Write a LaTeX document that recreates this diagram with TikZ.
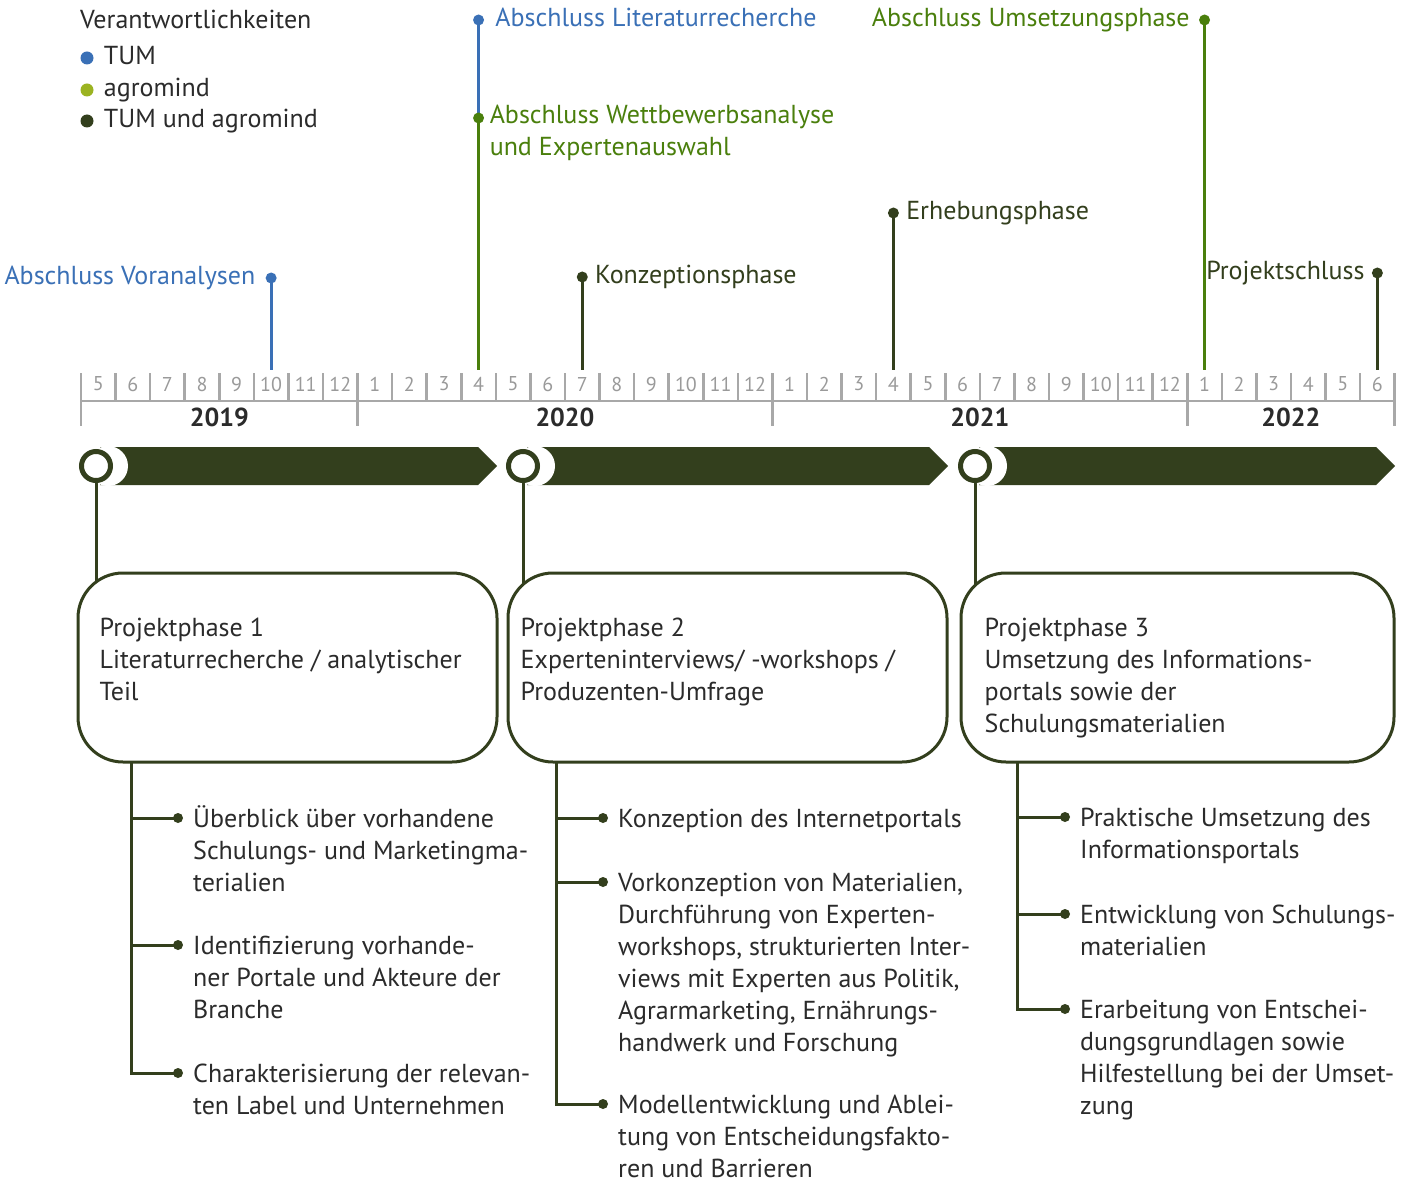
\documentclass[tikz,border=0pt]{standalone}
\usepackage{fontspec}
\setmainfont{PT Sans}
\usetikzlibrary{positioning,backgrounds,calc}

\definecolor{tumblue}{HTML}{3A70B6}
\definecolor{agrolime}{HTML}{9BB321}
\definecolor{agrogreen}{HTML}{4A7F0C}
\definecolor{olivedark}{HTML}{333F1D}
\definecolor{textgray}{HTML}{2B2B2B}
\definecolor{axisgray}{HTML}{A8A8A8}
\definecolor{monthgray}{HTML}{9A9A9A}

\tikzset{
  txt/.style={anchor=north west, inner sep=0pt, align=left,
    font=\fontsize{26}{32}\selectfont, text=textgray},
  msdot/.style={circle, fill=#1, inner sep=0pt, minimum size=11pt},
  msline/.style={draw=#1, line width=3pt},
  legdot/.style={circle, fill=#1, inner sep=0pt, minimum size=13pt},
  tick/.style={draw=axisgray, line width=2.5pt},
  ring/.style={circle, draw=olivedark, line width=5pt, fill=white, inner sep=0pt, minimum size=29pt},
  phasebox/.style={draw=olivedark, line width=3pt, fill=white, rounded corners=45pt, inner sep=0pt, minimum height=189pt},
  conn/.style={draw=olivedark, line width=3pt},
  itemdot/.style={circle, fill=olivedark, inner sep=0pt, minimum size=10pt},
}

\begin{document}
\begin{tikzpicture}[x=1pt, y=-1pt]
\def\axl{81}
\def\mw{34.57}

\begin{pgfonlayer}{background}
  \fill[white] (0,0) rectangle (1405,1182);
\end{pgfonlayer}
\useasboundingbox (0,0) rectangle (1405,1182);

% legend
\node[txt, anchor=west] (legtitle) at (80,22) {\strut Verantwortlichkeiten};
\foreach \n/\col/\y/\t in {tum/tumblue/58/TUM, agro/agrolime/90/agromind, both/olivedark/121/TUM und agromind} {
  \node[legdot=\col] (l-\n) at (87,\y) {};
  \node[txt, right=10pt of l-\n] (lt-\n) {\strut\t};
}

% month axis
\foreach \i [evaluate=\i as \xx using {\axl+\i*\mw}] in {0,...,38}
  \draw[tick] (\xx,373) -- (\xx,401);
\foreach \i [evaluate=\i as \xx using {\axl+\i*\mw}] in {0,8,20,32,38}
  \draw[tick] (\xx,373) -- (\xx,426);
\draw[tick] (\axl,401) -- ({\axl+38*\mw},401);
\foreach \i [evaluate=\i as \mon using {int(mod(\i+4,12)+1)}] in {0,...,37}
  \node[font=\fontsize{20}{20}\selectfont, text=monthgray] (m\i) at ({\axl+(\i+0.5)*\mw},384) {\mon};
\foreach \yr/\a/\b in {2019/0/8, 2020/8/20, 2021/20/32, 2022/32/38}
  \node[font=\bfseries\fontsize{26}{26}\selectfont, text=textgray] (y\yr) at ({\axl+(\a+\b)/2*\mw},417) {\yr};

% milestones
\foreach \n/\i/\top/\col in {voran/5/278/tumblue, konz/14/277/olivedark, erheb/23/213/olivedark,
    umsetz/32/20/agrogreen, schluss/37/273/olivedark} {
  \coordinate (f-\n) at ({\axl+(\i+0.5)*\mw},370);
  \node[msdot=\col] (d-\n) at ({\axl+(\i+0.5)*\mw},\top) {};
  \begin{pgfonlayer}{background}
    \draw[msline=\col] (d-\n.center) -- (f-\n);
  \end{pgfonlayer}
}
\coordinate (f-lit) at ({\axl+11.5*\mw},370);
\node[msdot=tumblue] (d-lit) at ({\axl+11.5*\mw},20) {};
\node[msdot=agrogreen] (d-wett) at ({\axl+11.5*\mw},118) {};
\begin{pgfonlayer}{background}
  \draw[msline=tumblue] (d-lit.center) -- (d-wett.center);
  \draw[msline=agrogreen] (d-wett.center) -- (f-lit);
\end{pgfonlayer}

\node[txt, text=tumblue, left=10pt of d-voran] (t-voran) {\strut Abschluss Voranalysen};
\node[txt, text=tumblue, right=11pt of d-lit] (t-lit) {\strut Abschluss Literaturrecherche};
\node[txt, text=agrogreen] (t-wett) at ([xshift=11pt,yshift=17pt]d-wett.center) {\strut Abschluss Wettbewerbsanalyse\\und Expertenauswahl};
\node[txt, text=olivedark, right=7pt of d-konz] (t-konz) {\strut Konzeptionsphase};
\node[txt, text=olivedark, right=7pt of d-erheb] (t-erheb) {\strut Erhebungsphase};
\node[txt, text=agrogreen, left=9pt of d-umsetz] (t-umsetz) {\strut Abschluss Umsetzungsphase};
\node[txt, text=olivedark, left=7pt of d-schluss] (t-schluss) {\strut Projektschluss};

% phase arrows
\foreach \k/\cx/\tip in {1/96/497, 2/523/948, 3/975/1395} {
  \fill[olivedark] (\cx+4,447) -- (\tip-19,447) -- (\tip,466) -- (\tip-19,485) -- (\cx+4,485) -- cycle;
  \fill[white] (\cx+12,466) circle[radius=20pt];
  \node[ring] (c\k) at (\cx,466) {};
}

% phase boxes
\node[phasebox, minimum width=419pt] (p1) at (287.5,667.5) {};
\node[phasebox, minimum width=439pt] (p2) at (727.5,667.5) {};
\node[phasebox, minimum width=433pt] (p3) at (1177.5,667.5) {};
\node[txt] (pt1) at ([xshift=23pt,yshift=-42pt]p1.north west) {\strut Projektphase 1\\Literaturrecherche / analytischer\\Teil};
\node[txt] (pt2) at ([xshift=14pt,yshift=-42pt]p2.north west) {\strut Projektphase 2\\Experteninterviews/ -workshops /\\Produzenten-Umfrage};
\node[txt] (pt3) at ([xshift=25pt,yshift=-42pt]p3.north west) {\strut Projektphase 3\\Umsetzung des Informations-\\portals sowie der\\Schulungsmaterialien};
\begin{pgfonlayer}{background}
  \foreach \k in {1,2,3}
    \draw[conn] (c\k.center) -- (c\k |- p\k.center);
\end{pgfonlayer}

% work packages
\coordinate (b1) at (131,762);
\coordinate (b2) at (556,762);
\coordinate (b3) at (1017,762);
\foreach \n/\k/\dx/\y/\t in {
    1a/1/178/818/{Überblick über vorhandene\\Schulungs- und Marketingma-\\terialien},
    1b/1/178/945/{Identifizierung vorhande-\\ner Portale und Akteure der\\Branche},
    1c/1/178/1073/{Charakterisierung der relevan-\\ten Label und Unternehmen},
    2a/2/603/818/{Konzeption des Internetportals},
    2b/2/603/882/{Vorkonzeption von Materialien,\\Durchführung von Experten-\\workshops, strukturierten Inter-\\views mit Experten aus Politik,\\Agrarmarketing, Ernährungs-\\handwerk und Forschung},
    2c/2/603/1104/{Modellentwicklung und Ablei-\\tung von Entscheidungsfakto-\\ren und Barrieren},
    3a/3/1065/817/{Praktische Umsetzung des\\Informationsportals},
    3b/3/1065/914/{Entwicklung von Schulungs-\\materialien},
    3c/3/1065/1009/{Erarbeitung von Entschei-\\dungsgrundlagen sowie\\Hilfestellung bei der Umset-\\zung}} {
  \node[itemdot] (i\n) at (\dx,\y) {};
  \node[txt] (it\n) at ([xshift=15pt,yshift=13pt]i\n.center) {\strut\t};
  \begin{pgfonlayer}{background}
    \draw[conn] (b\k |- i\n) -- (i\n.center);
  \end{pgfonlayer}
}
\draw[conn] (b1) |- (i1c.center);
\draw[conn] (b2) |- (i2c.center);
\draw[conn] (b3) |- (i3c.center);

\end{tikzpicture}
\end{document}
